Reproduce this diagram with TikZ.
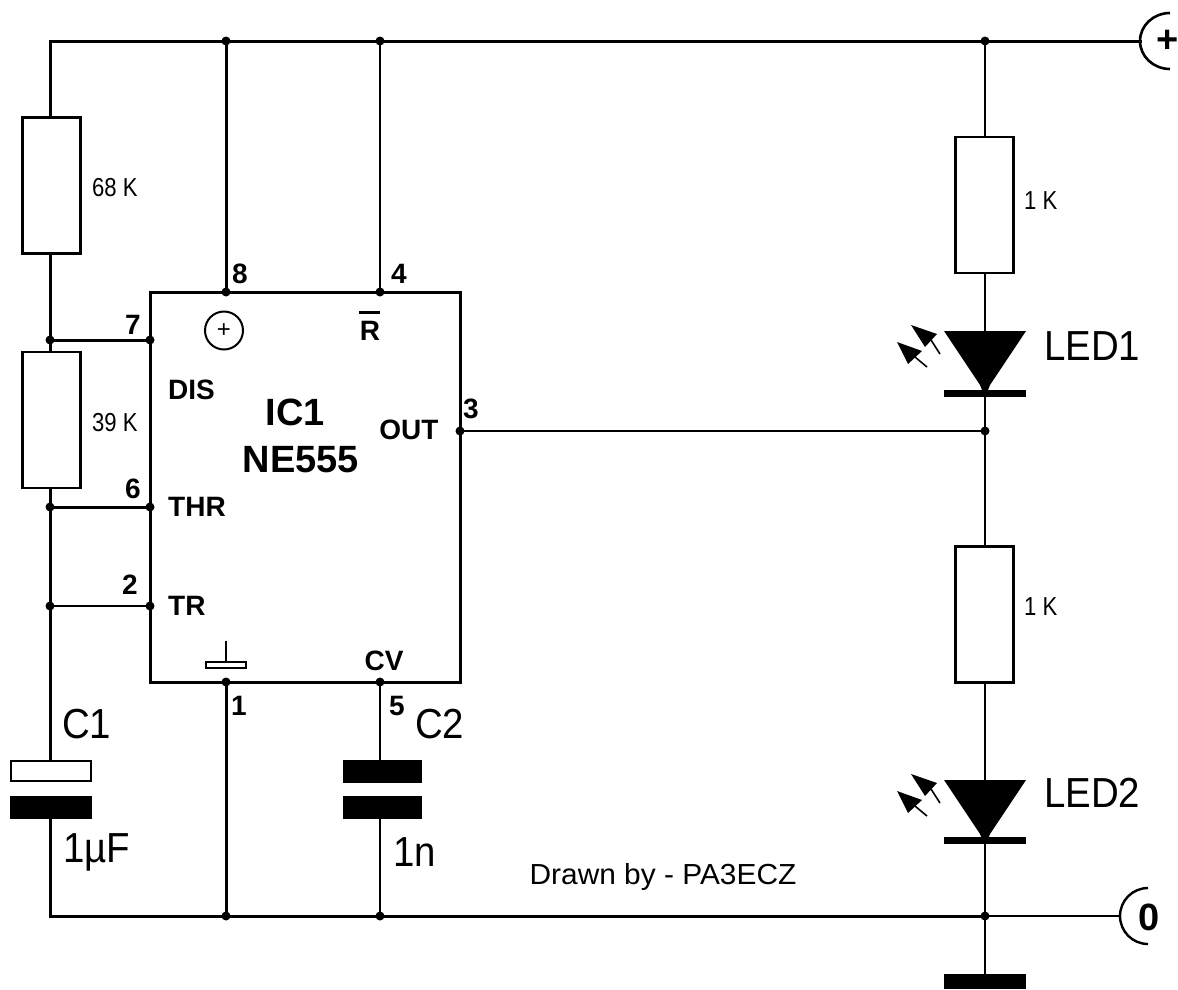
\documentclass[tikz,border=0pt]{standalone}
\usepackage{fontspec}
\setmainfont{Liberation Sans}
\tikzset{
  wire/.style={line width=2pt,black,line cap=rect},
  thickwire/.style={line width=3pt,black,line cap=rect},
  buttwire/.style={line width=3pt,black,line cap=butt},
  res/.style={draw=black,fill=white,line width=2.7pt,minimum width=58pt,minimum height=136pt,inner sep=0pt,outer sep=0pt},
  ic/.style={draw=black,fill=white,line width=3pt,minimum width=310pt,minimum height=390pt,inner sep=0pt,outer sep=0pt},
  plate/.style={fill=black,minimum height=23pt,inner sep=0pt,outer sep=0pt},
  hplate/.style={draw=black,fill=white,line width=2.5pt,minimum width=80pt,minimum height=20pt,inner sep=0pt,outer sep=0pt},
  bar/.style={fill=black,minimum width=82pt,minimum height=7pt,inner sep=0pt,outer sep=0pt},
  gndbar/.style={fill=black,minimum width=82pt,minimum height=15pt,inner sep=0pt,outer sep=0pt},
  ledtri/.style={fill=black},
  dot/.style={circle,fill=black,minimum size=9pt,inner sep=0pt,outer sep=0pt},
  pinlab/.style={font=\bfseries\fontsize{28}{28}\selectfont,inner sep=0pt},
  big/.style={font=\fontsize{40}{40}\selectfont,inner sep=0pt,xscale=.96,yscale=1.05},
  small/.style={font=\fontsize{26}{26}\selectfont,inner sep=0pt,xscale=.85},
  icname/.style={font=\bfseries\fontsize{38}{38}\selectfont,inner sep=0pt},
  term/.style={font=\bfseries\fontsize{38}{38}\selectfont,inner sep=0pt},
}
\newcommand{\ledsym}[2]{%
  \begin{scope}[shift={(#1,#2)}]
    \fill[ledtri] (-41,0) -- (41,0) -- (5,54) -- (3,59) -- (-3,59) -- (-5,54) -- cycle;
    \fill (-74,-6) -- (-48,3) -- (-60,16) -- cycle;
    \draw[line width=1.6pt] (-54,9) -- (-45,23);
    \fill (-88,11) -- (-63,20) -- (-77,33) -- cycle;
    \draw[line width=1.6pt] (-70,26) -- (-58,36);
  \end{scope}}
\begin{document}
\begin{tikzpicture}[x=1pt,y=-1pt]
\useasboundingbox (0,0) rectangle (1178,989);
\fill[white] (0,0) rectangle (1178,989);
% named points
\coordinate (tl) at (50,41);
\coordinate (t1) at (226,41);
\coordinate (t2) at (380,41);
\coordinate (t3) at (985,41);
\coordinate (tp) at (1140,41);
\coordinate (bl) at (50,916);
\coordinate (b1) at (226,916);
\coordinate (b2) at (380,916);
\coordinate (b3) at (985,916);
\coordinate (bp) at (1120,916);
\coordinate (j7) at (50,340);
\coordinate (j6) at (50,507);
\coordinate (j2) at (50,606);
\coordinate (jo) at (985,431);
\coordinate (p7) at (150,340);
\coordinate (p6) at (150,507);
\coordinate (p2) at (150,606);
\coordinate (p8) at (226,292);
\coordinate (p4) at (380,292);
\coordinate (p3) at (460,431);
\coordinate (p1) at (226,682);
\coordinate (p5) at (380,682);
\coordinate (l1t) at (985,331);
\coordinate (l1b) at (985,396);
\coordinate (l2t) at (985,780);
\coordinate (l2b) at (985,844);
% parts
\node[hplate] (c1a) at (51,771) {};
\node[plate,minimum width=82pt] (c1b) at (51,807.5) {};
\node[plate,minimum width=79pt] (c2a) at (382.5,771) {};
\node[plate,minimum width=79pt] (c2b) at (382.5,807.5) {};
\node[gndbar] (g) at (985,981.5) {};
\node[bar] (b1bar) at (985,393) {};
\node[bar] (b2bar) at (985,840.5) {};
% wires
\draw[thickwire] (tl) -- (tp);
\draw[thickwire] (bl) -- (b3);
\draw[wire] (b3) -- (bp);
\draw[thickwire] (tl) -- (j7) -- (j6) -- (j2);
\draw[buttwire] (j2) -- (c1a.north -| tl);
\draw[thickwire] (c1b.south -| bl) -- (bl);
\draw[thickwire] (t1) -- (p8);
\draw[wire] (t2) -- (p4);
\draw[thickwire] (j7) -- (p7);
\draw[thickwire] (j6) -- (p6);
\draw[wire] (j2) -- (p2);
\draw[wire] (p3) -- (jo);
\draw[thickwire] (p1) -- (b1);
\draw[wire] (p5) -- (c2a.north -| p5);
\draw[wire] (c2b.south -| b2) -- (b2);
\draw[wire] (t3) -- (l1t);
\draw[wire] (l1b) -- (jo) -- (l2t);
\draw[wire] (l2b) -- (b3);
\draw[wire] (b3) -- (g.north);
% redrawn parts above wires
\node[res] (r1) at (51.5,185.5) {};
\node[res] (r2) at (51.5,420) {};
\node[res] (r3) at (984.5,205) {};
\node[res] (r4) at (984.5,614.5) {};
\node[ic] (ic1) at (305,487) {};
\ledsym{985}{331}
\ledsym{985}{780}
% dots
\foreach \n/\p in {a/t1,c/t2,d/t3,e/b1,f/b2,g2/b3,h/j7,i/j6,j/j2,k/jo,l/p7,m/p6,n/p2,o/p8,q/p4,r/p3,s/p1,t/p5}
  \node[dot] (d\n) at (\p) {};
% terminals
\draw[line width=2.6pt] (1170,13) arc[start angle=90,end angle=270,x radius=30pt,y radius=28pt];
\node[term] (tplus) at (1168,41) {+};
\draw[line width=2.4pt] (1148,888) arc[start angle=90,end angle=270,x radius=28pt,y radius=28pt];
\node[term] (tzero) at (1149,917) {0};
% symbols inside IC
\node[circle,draw=black,line width=2pt,minimum size=38pt,inner sep=0pt,font=\fontsize{24}{24}\selectfont] (plus) at (224,330.5) {+};
\draw[line width=2pt] (226,641) -- (226,662);
\draw[line width=2pt] (206,662) rectangle (246,668);
% labels
\node[pinlab] (n8) at (240,274) {8};
\node[pinlab] (n4) at (399,274) {4};
\node[pinlab] (n7) at (133,325) {7};
\node[pinlab] (n6) at (133,489) {6};
\node[pinlab] (n2) at (130,585) {2};
\node[pinlab] (n3) at (471,409) {3};
\node[pinlab] (n1) at (239,706) {1};
\node[pinlab] (n5) at (397,706) {5};
\node[pinlab] (lr) at (370,331) {R};
\fill (359,311) rectangle (380,314);
\node[pinlab,anchor=west] (ldis) at (168,390) {DIS};
\node[pinlab] (lout) at (409,430) {OUT};
\node[pinlab,anchor=west] (lthr) at (168,507) {THR};
\node[pinlab,anchor=west] (ltr) at (168,606) {TR};
\node[pinlab] (lcv) at (384,661) {CV};
\node[icname] (lic) at (295.5,412) {IC1};
\node[icname] (lne) at (301,460) {NE555};
\node[small,anchor=west] (lr1) at (92,188) {68 K};
\node[small,anchor=west] (lr2) at (92,423) {39 K};
\node[small,anchor=west] (lr3) at (1024,201) {1 K};
\node[small,anchor=west] (lr4) at (1024,607) {1 K};
\node[big,anchor=west] (led1) at (1044,346) {LED1};
\node[big,anchor=west] (led2) at (1044,793) {LED2};
\node[big,anchor=west] (cc1) at (62,724) {C1};
\node[big,anchor=west] (cc2) at (415,724) {C2};
\node[big,anchor=west] (v1) at (63,852) {1µF};
\node[big,anchor=west] (v2) at (393,852) {1n};
\node[font=\fontsize{29}{29}\selectfont,inner sep=0pt,xscale=1.03] (drawn) at (663,877) {Drawn by - PA3ECZ};
\end{tikzpicture}
\end{document}
